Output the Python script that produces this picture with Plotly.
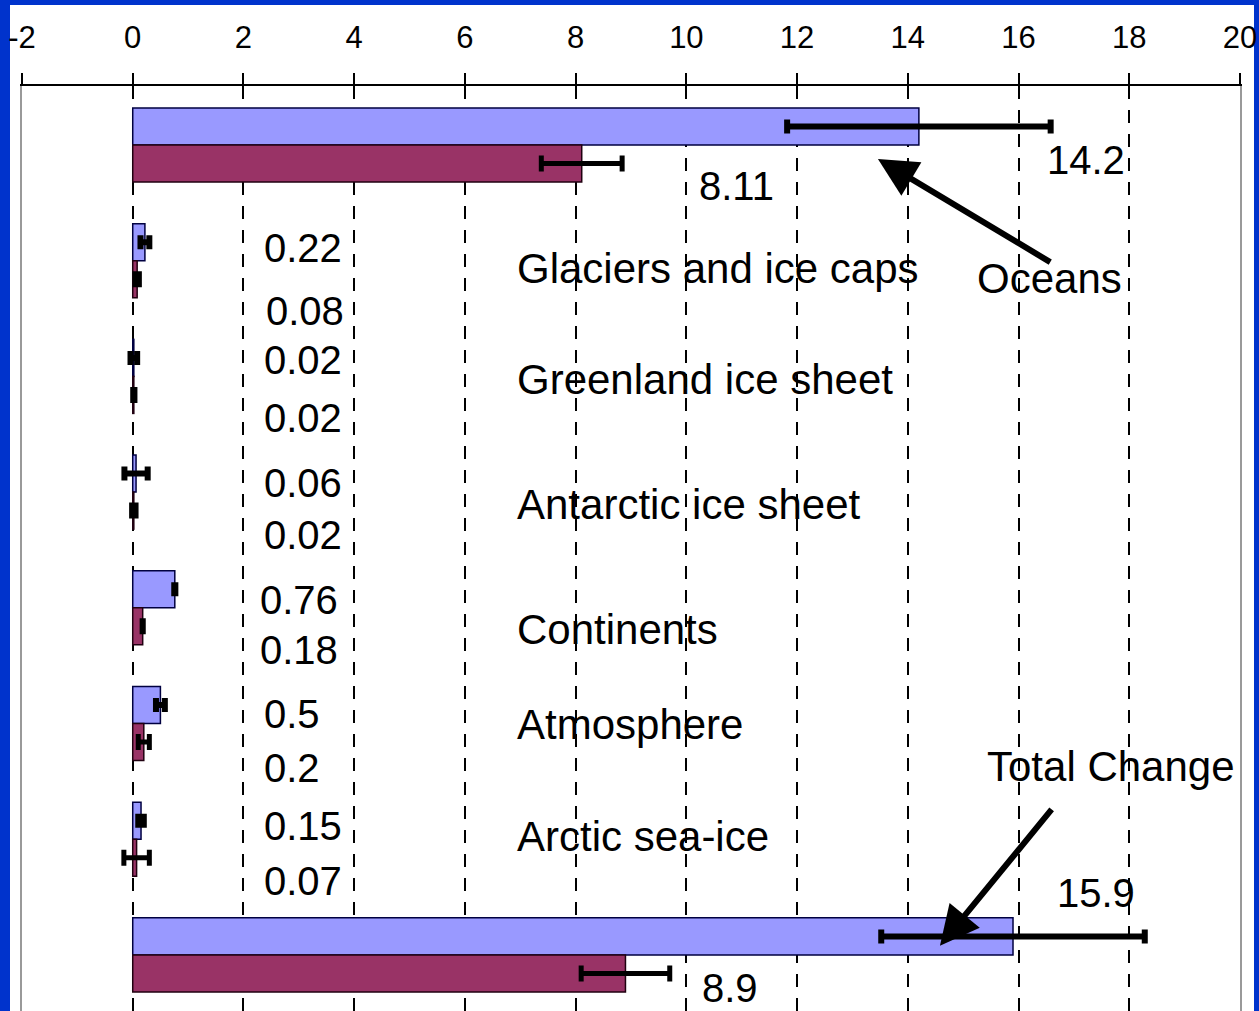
import plotly.graph_objects as go

categories = ["Oceans", "Glaciers and ice caps", "Greenland ice sheet", "Antarctic ice sheet",
              "Continents", "Atmosphere", "Arctic sea-ice", "Total Change"]
recent_values = [14.2, 0.22, 0.02, 0.06, 0.76, 0.5, 0.15, 15.9]
recent_errors = [2.38, 0.08, 0.06, 0.21, 0.01, 0.08, 0.05, 2.38]
long_values = [8.11, 0.08, 0.02, 0.02, 0.18, 0.2, 0.07, 8.9]
long_errors = [0.73, 0.04, 0.02, 0.04, 0.01, 0.1, 0.23, 0.8]
x_ticks = list(range(-2, 21, 2))

# label placements (data coordinates: x value, y category index)
recent_label_pos = [(16.48, 0.13), (2.33, 0.89), (2.33, 1.86), (2.33, 2.92),
                    (2.26, 3.93), (2.33, 4.92), (2.33, 5.886), (16.66, 6.465)]
long_label_pos = [(10.19, 0.354), (2.38, 1.435), (2.33, 2.36), (2.33, 3.37),
                  (2.26, 4.365), (2.33, 5.385), (2.33, 6.36), (10.24, 7.286)]
category_label_pos = [(15.21, 1.15), (6.9, 1.07), (6.9, 2.03), (6.9, 3.11),
                      (6.9, 4.19), (6.9, 5.01), (6.9, 5.98), (15.39, 5.376)]
arrows = [((13.46, 0.12), (16.6, 1.02)), ((14.58, 6.92), (16.62, 5.73))]

FONT = "Liberation Sans, Arial, sans-serif"

fig = go.Figure()
fig.add_trace(go.Bar(
    y=categories, x=recent_values, orientation="h",
    marker=dict(color="#9999FF", line=dict(color="#000040", width=1.5)),
    error_x=dict(type="data", array=recent_errors, color="black", thickness=6, width=7),
    showlegend=False))
fig.add_trace(go.Bar(
    y=categories, x=long_values, orientation="h",
    marker=dict(color="#993366", line=dict(color="#200010", width=1.5)),
    error_x=dict(type="data", array=long_errors, color="black", thickness=5, width=8),
    showlegend=False))

ann = []
for v, (x, y) in zip(recent_values, recent_label_pos):
    ann.append(dict(x=x, y=y, xref="x", yref="y", text=str(v), showarrow=False,
                    xanchor="left", yanchor="middle", font=dict(size=40, color="black", family=FONT)))
for v, (x, y) in zip(long_values, long_label_pos):
    ann.append(dict(x=x, y=y, xref="x", yref="y", text=str(v), showarrow=False,
                    xanchor="left", yanchor="middle", font=dict(size=40, color="black", family=FONT)))
for c, (x, y) in zip(categories, category_label_pos):
    ann.append(dict(x=x, y=y, xref="x", yref="y", text=c, showarrow=False,
                    xanchor="left", yanchor="middle", font=dict(size=42, color="black", family=FONT)))
for (hx, hy), (tx, ty) in arrows:
    ann.append(dict(x=hx, y=hy, xref="x", yref="y", ax=tx, ay=ty, axref="x", ayref="y",
                    text="", showarrow=True, arrowhead=2, arrowsize=1.3, arrowwidth=6,
                    arrowcolor="black"))

W, H = 1259, 1011
L, R, T, B = 22, 19, 86, 0
pw, ph = W - L - R, H - T - B

fig.update_layout(
    width=W, height=H,
    margin=dict(l=L, r=R, t=T, b=B),
    paper_bgcolor="#0033CC",
    plot_bgcolor="white",
    barmode="group", bargap=0.36, bargroupgap=0,
    annotations=ann,
    shapes=[dict(type="rect", xref="paper", yref="paper", layer="below",
                 x0=(10 - L) / pw, x1=(1254 - L) / pw,
                 y0=-0.02, y1=(H - 5) / ph,
                 fillcolor="white", line=dict(width=0))],
    xaxis=dict(side="top", range=[-2, 20], tickvals=x_ticks, ticktext=[str(t) for t in x_ticks],
               showline=True, linecolor="black", linewidth=2,
               ticks="outside", ticklen=11, tickwidth=2, tickcolor="black",
               tickfont=dict(size=31, color="black", family=FONT),
               ticklabelstandoff=13,
               showgrid=True, gridcolor="black", gridwidth=1.5, griddash="13px,11px",
               zeroline=False, fixedrange=True),
    yaxis=dict(range=[7.485, -0.51], showticklabels=False, ticks="",
               showline=True, linecolor="#999999", linewidth=2, mirror=True,
               showgrid=False, zeroline=False),
)

fig.write_html("out.html")
